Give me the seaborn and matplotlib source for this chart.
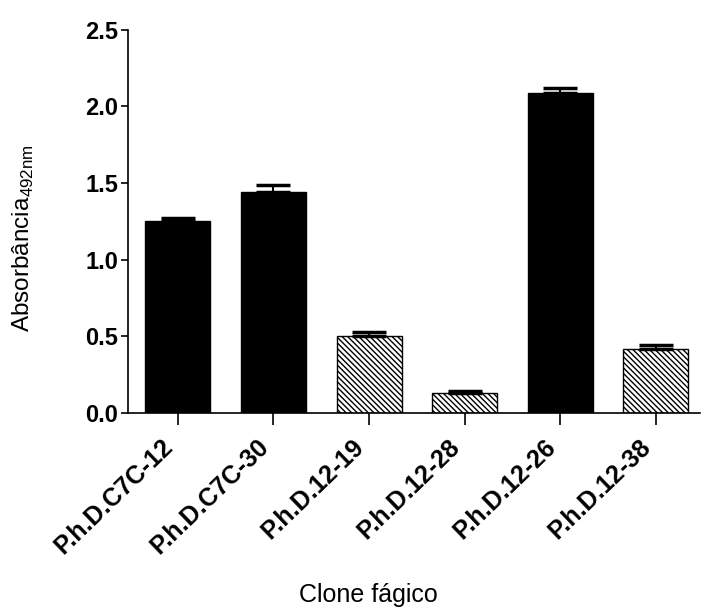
import matplotlib
matplotlib.use("Agg")
import matplotlib.pyplot as plt
import seaborn as sns
import pandas as pd

# valores
clones = ["P.h.D.C7C-12", "P.h.D.C7C-30", "P.h.D.12-19",
          "P.h.D.12-28", "P.h.D.12-26", "P.h.D.12-38"]
absorbancia = [1.25, 1.44, 0.50, 0.13, 2.09, 0.42]
erro = [0.025, 0.05, 0.03, 0.01, 0.03, 0.02]
tick_y = [0.0, 0.5, 1.0, 1.5, 2.0, 2.5]
hachurado = [False, False, True, True, False, True]

sns.set_theme(style="ticks")
plt.rcParams["font.family"] = ["Liberation Sans", "DejaVu Sans"]
plt.rcParams["hatch.linewidth"] = 1.0
plt.rcParams["mathtext.fontset"] = "custom"
plt.rcParams["mathtext.rm"] = "Liberation Sans"
plt.rcParams["text.color"] = "black"
plt.rcParams["axes.labelcolor"] = "black"
plt.rcParams["xtick.color"] = "black"
plt.rcParams["ytick.color"] = "black"

df = pd.DataFrame({"clone": clones, "abs": absorbancia})
cores = ["white" if h else "black" for h in hachurado]

fig = plt.figure(figsize=(7.04, 6.09), dpi=100)
ax = fig.add_axes([0.182, 0.322, 0.812, 0.629])

sns.barplot(data=df, x="clone", y="abs", hue="clone", palette=cores,
            legend=False, width=0.68, edgecolor="black", linewidth=1.0,
            errorbar=None, ax=ax)

for patch, h in zip(ax.patches, hachurado):
    if h:
        patch.set_hatch("\\\\\\\\\\\\")

ax.errorbar(range(len(clones)), absorbancia,
            yerr=[[0] * len(erro), erro], fmt="none", ecolor="black",
            elinewidth=1.5, capsize=12, capthick=2.5)

ax.set_xlim(-0.52, 5.46)
ax.set_ylim(0, 2.5)
ax.set_yticks(tick_y)
ax.set_yticklabels([f"{v:.1f}" for v in tick_y], fontsize=17, fontweight="bold")
ax.set_xticks(range(len(clones)))
ax.set_xticklabels(clones, rotation=44, ha="right",
                   fontsize=18, fontweight="bold")
ax.tick_params(axis="y", length=5, width=1.2, pad=2)
ax.tick_params(axis="x", length=8.6, width=1.2, pad=7)

ax.set_xlabel("Clone fágico", fontsize=18)
ax.xaxis.set_label_coords(0.42, -0.444)
ax.set_ylabel("Absorbância$_{\\mathregular{492nm}}$", fontsize=17.5)
ax.yaxis.set_label_coords(-0.161, 0.457)

sns.despine(ax=ax)
for s in ["left", "bottom"]:
    ax.spines[s].set_linewidth(1.2)
    ax.spines[s].set_color("black")

fig.savefig("out.png", dpi=100)
